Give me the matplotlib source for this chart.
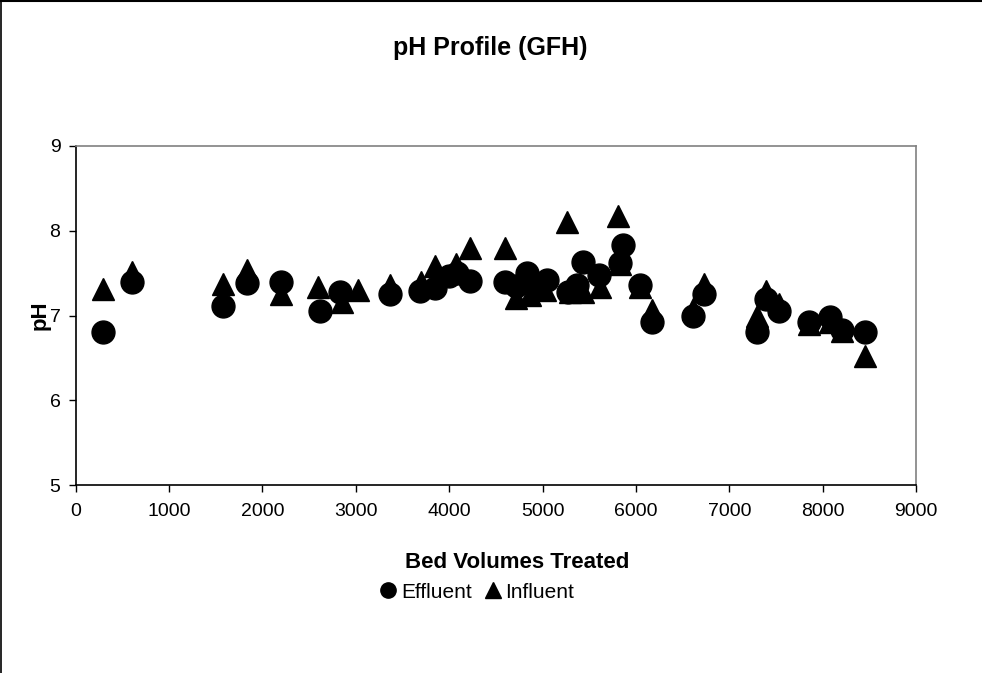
import matplotlib
matplotlib.use("Agg")
import matplotlib.pyplot as plt
from matplotlib.lines import Line2D

plt.rcParams['font.family'] = ['Liberation Sans', 'DejaVu Sans']

# Data
eff_bv = [296, 600, 1582, 1835, 2196, 2612, 2830, 3364, 3690, 3850, 4000, 4080,
          4225, 4595, 4720, 4830, 4950, 5050, 5270, 5365, 5437, 5600, 5830, 5865,
          6044, 6169, 6614, 6729, 7293, 7393, 7536, 7857, 8078, 8204, 8453]
eff_ph = [6.81, 7.40, 7.11, 7.39, 7.40, 7.06, 7.28, 7.25, 7.29, 7.33, 7.47, 7.50,
          7.41, 7.40, 7.35, 7.50, 7.35, 7.42, 7.28, 7.36, 7.63, 7.48, 7.62, 7.83,
          7.36, 6.93, 6.99, 7.26, 6.81, 7.20, 7.05, 6.92, 6.98, 6.83, 6.81]

inf_bv = [296, 600, 1582, 1835, 2196, 2600, 2850, 3027, 3364, 3703, 3848, 4078,
          4225, 4598, 4712, 4866, 5030, 5258, 5290, 5437, 5615, 5812, 5830, 6044,
          6169, 6614, 6729, 7293, 7393, 7536, 7857, 8078, 8204, 8453]
inf_ph = [7.31, 7.52, 7.37, 7.54, 7.25, 7.34, 7.16, 7.30, 7.36, 7.40, 7.58, 7.61,
          7.80, 7.80, 7.21, 7.24, 7.30, 8.10, 7.28, 7.28, 7.34, 8.18, 7.61, 7.34,
          7.07, 7.08, 7.37, 6.99, 7.29, 7.14, 6.90, 6.93, 6.82, 6.53]

x_ticks = [0, 1000, 2000, 3000, 4000, 5000, 6000, 7000, 8000, 9000]
y_ticks = [5, 6, 7, 8, 9]

fig = plt.figure(figsize=(9.82, 6.73), dpi=100)
ax = fig.add_axes([75.7/982, 1-485.3/673, (916-75.7)/982, (485.3-146)/673])

ax.plot(eff_bv, eff_ph, linestyle='none', marker='o', markersize=16.5,
        color='black', label='Effluent')
ax.plot(inf_bv, inf_ph, linestyle='none', marker='^', markersize=16.5,
        color='black', label='Influent')

ax.set_xlim(0, 9000)
ax.set_ylim(5, 9)
ax.set_xticks(x_ticks)
ax.set_yticks(y_ticks)
ax.tick_params(axis='both', direction='out', length=5, width=1, labelsize=14,
               colors='black')
ax.tick_params(axis='x', pad=8)
ax.tick_params(axis='y', pad=6)
for s in ['left', 'bottom']:
    ax.spines[s].set_color('black')
    ax.spines[s].set_linewidth(1.2)
for s in ['top', 'right']:
    ax.spines[s].set_color('#808080')
    ax.spines[s].set_linewidth(1.2)

fig.text(517/982, 1-562/673, 'Bed Volumes Treated', fontsize=16,
         fontweight='bold', ha='center', va='center')
fig.text(40/982, 1-315/673, 'pH', fontsize=16, fontweight='bold',
         rotation=90, ha='center', va='center')
fig.text(490/982, 1-48/673, 'pH Profile (GFH)', fontsize=18, fontweight='bold',
         ha='center', va='center')

handles = [Line2D([], [], linestyle='none', marker='o', markersize=11, color='black'),
           Line2D([], [], linestyle='none', marker='^', markersize=11, color='black')]
fig.legend(handles, ['Effluent', 'Influent'], loc='center',
           bbox_to_anchor=(477/982, 1-592/673), ncol=2, frameon=False,
           fontsize=15, handlelength=0.8, handletextpad=0.2, columnspacing=0.6,
           borderpad=0)

# figure border (top and left visible)
fig.add_artist(Line2D([0.001, 0.001], [0, 0.999], transform=fig.transFigure,
                      color='black', linewidth=1.2))
fig.add_artist(Line2D([0, 1], [0.998, 0.998], transform=fig.transFigure,
                      color='black', linewidth=1.5))

fig.savefig('out.png', dpi=100)
